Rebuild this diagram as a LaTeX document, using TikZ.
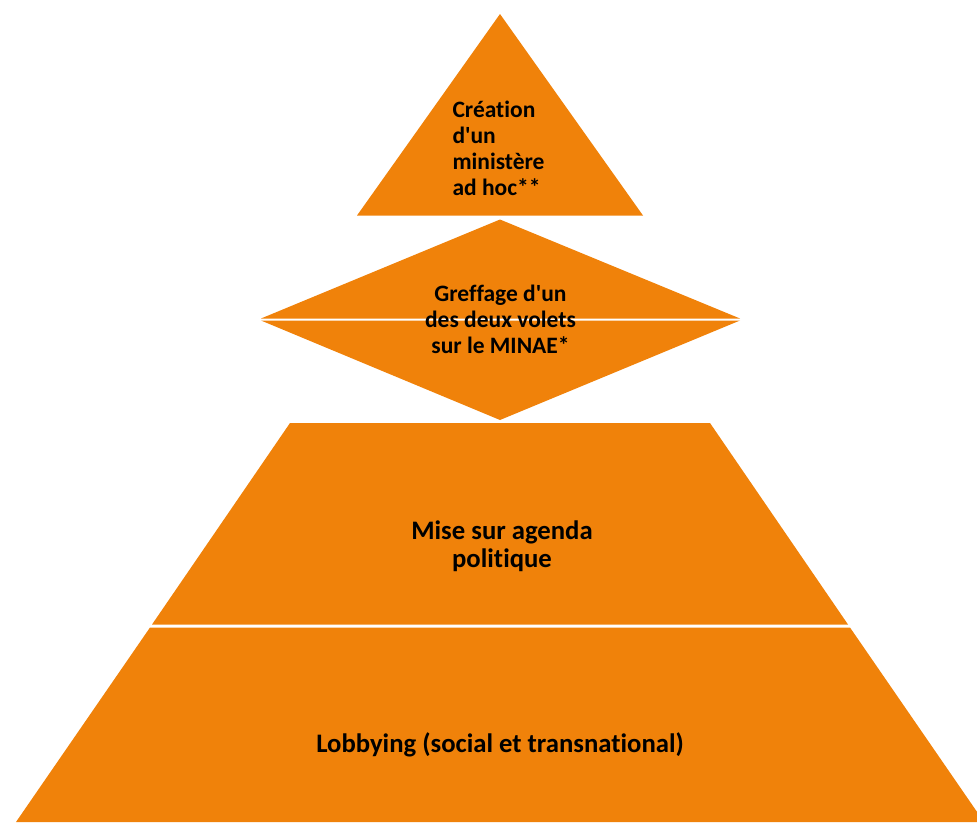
\documentclass[tikz,border=0pt]{standalone}
\usepackage{fontspec}
\newfontfamily\pf{Carlito}[Ligatures=CommonOff]
\definecolor{pyr}{HTML}{F0820A}
\begin{document}
\begin{tikzpicture}[x=1pt,y=-1pt,
  block/.style={fill=pyr,draw=none},
  lbl/.style={text=black,inner sep=0pt},
  small/.style={lbl,font=\pf\bfseries\fontsize{23.5}{26}\selectfont},
  big/.style={lbl,font=\pf\bfseries\fontsize{26.7}{28.5}\selectfont}]
\useasboundingbox (0,0) rectangle (977,822);
\clip (0,0) rectangle (977,822);
% top triangle
\fill[block] (357,215.5) -- (500,14) -- (643,215.5) -- cycle;
% diamond (two halves)
\fill[block] (261,318.5) -- (500,219.5) -- (740,318.5) -- cycle;
\fill[block] (261,320.5) -- (500,420) -- (740,320.5) -- cycle;
% middle trapezoid
\fill[block] (290,423) -- (710,423) -- (848,624.5) -- (152,624.5) -- cycle;
% bottom trapezoid
\fill[block] (150,627.5) -- (850,627.5) -- (984,822) -- (16,822) -- cycle;
\node[small,align=left] (t1) at (498.5,148) {Création\\d'un\\ministère\\ad hoc**};
\node[small,align=center] (t2) at (500.5,319.5) {Greffage d'un\\des deux volets\\sur le MINAE*};
\node[big,align=center] (t3) at (502,546) {Mise sur agenda\\politique};
\node[big] (t4) at (500,745) {Lobbying (social et transnational)};
\end{tikzpicture}
\end{document}
